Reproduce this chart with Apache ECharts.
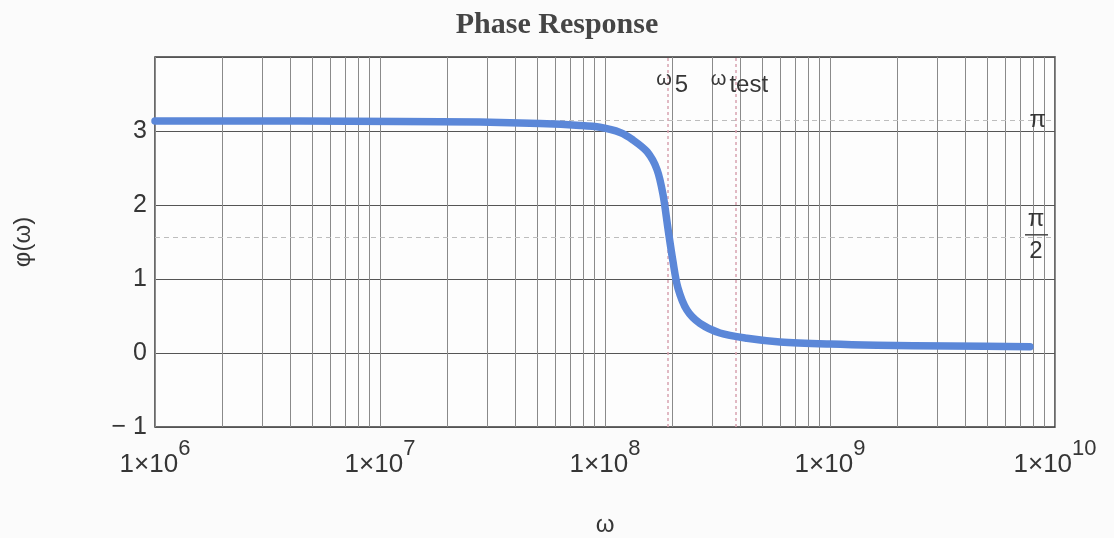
<!DOCTYPE html>
<html>
<head>
<meta charset="utf-8">
<script src="https://cdn.jsdelivr.net/npm/echarts@6/dist/echarts.min.js"></script>
<style>
  html, body { margin: 0; padding: 0; background: #fbfbfb; }
  #chart { width: 1114px; height: 538px; }
</style>
</head>
<body>
<div id="chart"></div>
<script>
// Phase response samples: angular frequency (rad/s) and phase (rad)
const omega = [
  1e6, 4.41e6, 1.227e7, 2.78e7, 5.14e7, 7.74e7, 9.5e7, 1.167e8, 1.33e8, 1.538e8,
  1.702e8, 1.811e8, 1.905e8, 2.004e8, 2.109e8, 2.312e8, 2.642e8, 3.243e8, 4.276e8,
  6.0e8, 1.0e9, 1.618e9, 3.41e9, 7.74e9
];
const phase = [
  3.135, 3.135, 3.13, 3.12, 3.10, 3.075, 3.05, 2.98, 2.88, 2.72,
  2.48, 2.14, 1.68, 1.24, 0.88, 0.58, 0.40, 0.27, 0.20,
  0.15, 0.12, 0.105, 0.095, 0.085
];

// Marked frequencies
const omega5 = 1.91e8;
const omegaTest = 3.8e8;

// Axis structure
const xMin = 1e6, xMax = 1e10;
const yMin = -1, yMax = 4;
const decades = [1e6, 1e7, 1e8, 1e9];
const mantissas = [2, 3, 4, 5, 6, 7, 8, 9];
const minorGrid = [];
decades.forEach(d => mantissas.forEach(m => minorGrid.push(m * d)));

const FONT = "'Liberation Sans', Arial, sans-serif";
const TEXT = '#363636';

const chart = echarts.init(document.getElementById('chart'));

chart.setOption({
  backgroundColor: '#fbfbfb',
  animation: false,
  title: {
    text: 'Phase Response',
    left: 'center',
    top: 5,
    textStyle: { fontFamily: "'Liberation Serif', 'Times New Roman', serif", fontWeight: 'bold', fontSize: 30, color: '#454545' }
  },
  grid: {
    left: 155, right: 59, top: 57, bottom: 111,
    outerBoundsMode: 'none',
    containLabel: false,
    show: true, borderColor: '#3a3a3a', borderWidth: 1.5, backgroundColor: '#fdfdfd'
  },
  xAxis: {
    type: 'log',
    logBase: 10,
    min: xMin,
    max: xMax,
    splitNumber: 4,
    axisLine: { show: false },
    axisTick: { show: false },
    splitLine: { show: true, lineStyle: { color: '#8a8a8a', width: 1 } },
    axisLabel: {
      margin: 11,
      color: TEXT,
      fontFamily: FONT,
      formatter: v => '{b|1×10}{s|' + Math.round(Math.log10(v)) + '}',
      rich: {
        b: { fontSize: 26, fontFamily: FONT, color: TEXT },
        s: { fontSize: 22, fontFamily: FONT, color: TEXT, padding: [0, 0, 32, 0] }
      }
    },
    name: 'ω',
    nameLocation: 'middle',
    nameGap: 86,
    nameTextStyle: { fontSize: 24, fontFamily: FONT, color: TEXT }
  },
  yAxis: {
    type: 'value',
    min: yMin,
    max: yMax,
    interval: 1,
    axisLine: { show: false },
    axisTick: { show: false },
    splitLine: { show: true, lineStyle: { color: '#555', width: 1 } },
    axisLabel: {
      margin: 8,
      fontSize: 25,
      fontFamily: FONT,
      color: TEXT,
      formatter: v => (v === yMax ? '' : (v < 0 ? '− ' + (-v) : String(v)))
    },
    name: 'φ(ω)',
    nameLocation: 'middle',
    nameGap: 120,
    nameRotate: 90,
    nameTextStyle: { fontSize: 24, fontFamily: FONT, color: TEXT }
  },
  series: [
    {
      // minor logarithmic grid (2..9 within each decade)
      type: 'line',
      data: [],
      silent: true,
      z: 1,
      markLine: {
        silent: true,
        symbol: ['none', 'none'],
        label: { show: false },
        lineStyle: { color: '#8a8a8a', width: 1, type: 'solid' },
        data: minorGrid.map(v => ({ xAxis: v }))
      }
    },
    {
      // reference levels and marked frequencies
      type: 'line',
      data: [],
      silent: true,
      z: 2,
      markLine: {
        silent: true,
        symbol: ['none', 'none'],
        data: [
          {
            yAxis: Math.PI,
            lineStyle: { color: '#bdbdbd', width: 1, type: [5, 4] },
            label: {
              show: true, position: 'insideEnd', distance: 9,
              formatter: 'π', fontSize: 24, fontFamily: FONT, color: TEXT
            }
          },
          {
            yAxis: Math.PI / 2,
            lineStyle: { color: '#bdbdbd', width: 1, type: [5, 4] },
            label: {
              show: true, position: 'insideEnd', distance: 7,
              formatter: '{n|π}\n{bar|}\n{d|2}',
              rich: {
                n: { width: 24, align: 'center', fontSize: 24, lineHeight: 22, fontFamily: FONT, color: TEXT },
                bar: { width: 23, height: 1.5, backgroundColor: '#444', lineHeight: 8 },
                d: { width: 24, align: 'center', fontSize: 24, lineHeight: 26, fontFamily: FONT, color: TEXT }
              }
            }
          },
          {
            xAxis: omega5,
            lineStyle: { color: '#d8a3b0', width: 1.5, type: [3, 3] },
            label: { show: false }
          },
          {
            xAxis: omegaTest,
            lineStyle: { color: '#d8a3b0', width: 1.5, type: [3, 3] },
            label: { show: false }
          }
        ]
      },
      markPoint: {
        silent: true,
        symbol: 'circle',
        symbolSize: 0,
        label: {
          show: true,
          position: 'inside',
          offset: [4, 0],
          color: TEXT,
          rich: {
            w: { fontSize: 20, fontFamily: FONT, color: TEXT, padding: [0, 3, 12, 0] },
            n: { fontSize: 24, fontFamily: FONT, color: TEXT }
          }
        },
        data: [
          { coord: [omega5, 3.62], label: { formatter: '{w|ω}{n|5}' } },
          { coord: [omegaTest, 3.62], label: { formatter: '{w|ω}{n|test}' } }
        ]
      }
    },
    {
      name: 'φ(ω)',
      type: 'line',
      z: 5,
      data: omega.map((w, i) => [w, phase[i]]),
      showSymbol: false,
      smooth: 0.3,
      lineStyle: { width: 7.5, color: '#5b87d8', cap: 'round', join: 'round' }
    }
  ]
});
</script>
</body>
</html>
